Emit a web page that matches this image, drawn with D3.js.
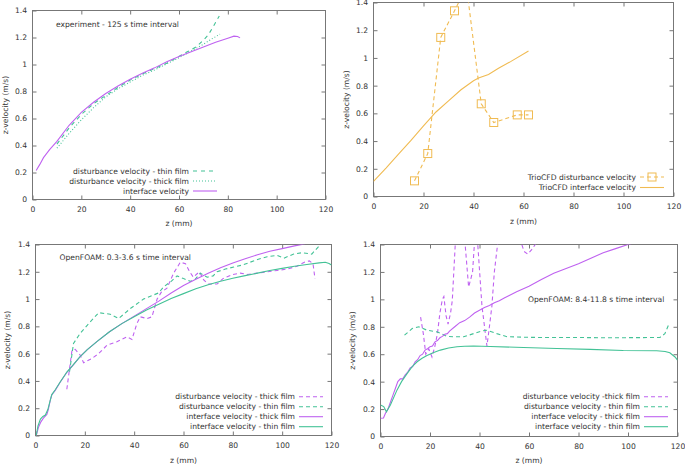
<!DOCTYPE html>
<html><head><meta charset="utf-8">
<script src="https://cdn.jsdelivr.net/npm/d3@7"></script>
<style>
body{margin:0;background:#fff}
svg{display:block}
text{font-family:"DejaVu Sans",sans-serif;font-size:7.6px;fill:#333}
</style></head><body>
<svg id="c" width="685" height="466"></svg>
<script>
// ---------------- DATA ----------------
const xTicks = [0, 20, 40, 60, 80, 100, 120];
const yTicks = [0, 0.2, 0.4, 0.6, 0.8, 1, 1.2, 1.4];
const yTickLabels = ["0", "0.2", "0.4", "0.6", "0.8", "1", "1.2", "1.4"];
const xTickLabels = ["0", "20", "40", "60", "80", "100", "120"];

// Panel 1: experiment
const expThin = [[10,0.41],[15,0.53],[20,0.63],[25,0.71],[30,0.77],[35,0.83],[40,0.885],[45,0.93],[50,0.97],[55,1.01],[58,1.04],[61,1.07],[64,1.1],[67,1.13],[70,1.18],[72,1.22],[74,1.28],[76.5,1.36]];
const expThick = [[10,0.38],[15,0.49],[20,0.59],[25,0.68],[30,0.76],[35,0.82],[40,0.87],[45,0.92],[50,0.96],[55,1.005],[60,1.05],[65,1.1],[70,1.15],[73,1.185],[76.8,1.225]];
const expInterface = [[1.5,0.215],[3,0.26],[4.5,0.31],[7,0.37],[10,0.43],[15,0.55],[20,0.645],[25,0.72],[30,0.785],[35,0.84],[40,0.89],[45,0.935],[50,0.975],[55,1.02],[60,1.06],[65,1.095],[70,1.13],[75,1.165],[80,1.195],[82.5,1.21],[84,1.208],[85,1.197]];

// Panel 2: TrioCFD
const trioDisturbance = [[16.4,0.113],[21.7,0.31],[26.9,1.148],[32.4,1.34],[37.2,1.515],[43.1,0.669],[48.1,0.534],[57.5,0.589],[62,0.589]];
const trioInterface = [[0,0.11],[5,0.205],[10,0.305],[15,0.405],[20,0.51],[25,0.61],[30,0.69],[35,0.77],[40,0.835],[42,0.855],[46,0.88],[50,0.925],[55,0.975],[62,1.05]];

// Panel 3: OpenFOAM 0.3-3.6 s
const of1DistThick = [[12.7,0.339],[14.8,0.626],[16.1,0.631],[18.1,0.59],[19.5,0.533],[22.9,0.565],[25.6,0.6],[29,0.662],[33,0.687],[37.1,0.723],[39.1,0.704],[41.1,0.82],[42.5,0.87],[45.2,0.857],[47.2,0.87],[49.3,1.0],[51,1.05],[53.3,1.08],[56,1.19],[58.7,1.27],[60.8,1.26],[62.5,1.2],[64,1.16],[66.4,1.2],[68.2,1.14],[70,1.11],[73.6,1.11],[76,1.15],[80,1.18],[83,1.19],[86,1.18],[90,1.19],[94,1.2],[98,1.21],[102,1.22],[106,1.24],[109,1.27],[111,1.28],[112.5,1.26],[113.3,1.15]];
const of1DistThin = [[13.8,0.467],[15.4,0.675],[18.1,0.748],[22.2,0.833],[25.6,0.9],[30.3,0.889],[33.7,0.857],[38.4,0.93],[43.8,1.0],[49.9,1.045],[52,1.09],[55,1.13],[57.4,1.17],[60,1.15],[62.8,1.13],[64.5,1.14],[66.8,1.19],[69.6,1.16],[72,1.17],[73.6,1.2],[77,1.22],[80.4,1.235],[84,1.25],[87,1.27],[90,1.29],[93.9,1.31],[98,1.32],[100.7,1.3],[104.7,1.33],[108,1.34],[112,1.33],[113.5,1.36],[115,1.39]];
const of1IfThick = [[0.3,0],[1.2,0.06],[2.2,0.1],[3.2,0.127],[4.6,0.155],[5.2,0.19],[6,0.26],[6.6,0.297],[8,0.33],[10,0.39],[12.7,0.462],[15,0.51],[18,0.577],[21,0.63],[25,0.69],[30,0.76],[35,0.82],[40,0.875],[45,0.93],[50,0.985],[55,1.045],[60,1.1],[65,1.145],[70,1.19],[75,1.23],[80,1.265],[85,1.295],[90,1.325],[95,1.35],[100,1.37],[105,1.39],[108,1.4],[112,1.42]];
const of1IfThin = [[0.3,0],[1,0.07],[2,0.12],[3,0.14],[4,0.15],[5,0.19],[6,0.26],[6.6,0.3],[8,0.335],[10,0.392],[12.7,0.465],[15,0.512],[18,0.577],[21,0.63],[25,0.69],[30,0.76],[35,0.82],[40,0.87],[45,0.92],[50,0.962],[55,1.005],[60,1.04],[65,1.075],[70,1.105],[75,1.13],[80,1.152],[85,1.172],[90,1.19],[95,1.21],[100,1.225],[105,1.24],[110,1.253],[115,1.265],[117.5,1.27],[119,1.26],[120,1.25]];

// Panel 4: OpenFOAM 8.4-11.8 s
const of2DistThick = [[16.2,0.87],[17.3,0.75],[18.3,0.6],[19.5,0.64],[20.8,0.58],[22,0.66],[23,0.75],[24,0.9],[25,1.0],[25.6,1.02],[26.5,0.88],[27.3,0.82],[28.3,0.9],[29,0.99],[30.2,1.4],[31.5,1.65],[33,1.6],[34.2,1.4],[35.6,1.09],[36.5,1.15],[37.2,1.2],[38,1.42],[38.6,1.5],[39.3,1.4],[41,0.95],[43,0.66],[44,0.8],[45,0.95],[46,1.2],[47.3,1.4],[48.5,1.6],[53,1.65],[57.1,1.4],[58,1.35],[59.5,1.33],[61,1.36],[62.5,1.4],[64,1.5]];
const of2DistThin = [[9.7,0.739],[12.8,0.787],[15.5,0.8],[18.8,0.775],[22.8,0.763],[26.9,0.73],[30,0.727],[33.6,0.727],[37.6,0.75],[41,0.77],[43,0.775],[47,0.75],[51.1,0.728],[58,0.724],[64.5,0.722],[78,0.722],[91.4,0.72],[105,0.721],[112.9,0.722],[114.9,0.75],[116.3,0.81]];
const of2IfThick = [[0,0.133],[1.2,0.135],[2,0.17],[3,0.2],[4,0.25],[5,0.3],[6,0.35],[7,0.4],[8,0.42],[9,0.42],[10,0.45],[11,0.47],[12,0.5],[13,0.51],[14,0.545],[15,0.56],[16,0.59],[17,0.6],[18,0.63],[19,0.64],[20,0.655],[21,0.66],[22,0.69],[23,0.7],[24,0.72],[25,0.73],[26,0.745],[27,0.75],[28,0.77],[30,0.8],[32,0.83],[34,0.845],[36,0.87],[38,0.9],[40,0.92],[42,0.94],[44,0.955],[46,0.975],[48,0.99],[50,1.01],[55,1.055],[60,1.095],[65,1.145],[70,1.19],[75,1.225],[80,1.26],[85,1.3],[90,1.34],[95,1.37],[100,1.4],[102,1.41]];
const of2IfThin = [[0,0.23],[1.3,0.218],[2.4,0.18],[4,0.23],[6.7,0.34],[8.5,0.4],[10.8,0.46],[12.8,0.51],[14.8,0.545],[16.8,0.57],[18.8,0.59],[21.5,0.612],[24.2,0.63],[27.5,0.645],[30.9,0.654],[34,0.658],[37.6,0.66],[44.4,0.656],[57.8,0.649],[71.2,0.642],[84.7,0.635],[98.1,0.627],[111.6,0.625],[115,0.62],[116.9,0.61],[119,0.58],[120,0.557]];

// ---------------- STYLE ----------------
const PURPLE = "#bf62f0", GREEN = "#43c296", ORANGE = "#f0bb52";
const svg = d3.select("#c");

function drawPanel(cfg) {
  const x = d3.scaleLinear().domain([0, 120]).range([cfg.l, cfg.r]);
  const y = d3.scaleLinear().domain([0, 1.4]).range([cfg.b, cfg.t]);
  const g = svg.append("g");
  const id = "clip" + cfg.id;
  svg.append("clipPath").attr("id", id).append("rect")
    .attr("x", cfg.l).attr("y", cfg.t).attr("width", cfg.r - cfg.l).attr("height", cfg.b - cfg.t);

  const axStyle = sel => {
    sel.select(".domain").remove();
    sel.selectAll(".tick line").attr("stroke", "#777");
    sel.selectAll(".tick text").attr("fill", "#333").style("font-family", "DejaVu Sans").style("font-size", "7.6px");
  };
  g.append("g").attr("transform", `translate(${cfg.l},0)`)
    .call(d3.axisLeft(y).tickValues(yTicks).tickFormat((d, i) => yTickLabels[i]).tickSize(-4).tickPadding(5.5))
    .call(axStyle);
  g.append("g").attr("transform", `translate(${cfg.r},0)`)
    .call(d3.axisRight(y).tickValues(yTicks.slice(1, -1)).tickFormat("").tickSize(-4))
    .call(axStyle);
  g.append("g").attr("transform", `translate(0,${cfg.b})`)
    .call(d3.axisBottom(x).tickValues(xTicks).tickFormat((d, i) => xTickLabels[i]).tickSize(-4).tickPadding(7.5))
    .call(axStyle);
  g.append("g").attr("transform", `translate(0,${cfg.t})`)
    .call(d3.axisTop(x).tickValues(xTicks.slice(1, -1)).tickFormat("").tickSize(-4))
    .call(axStyle);
  g.append("rect").attr("x", cfg.l).attr("y", cfg.t).attr("width", cfg.r - cfg.l).attr("height", cfg.b - cfg.t)
    .attr("fill", "none").attr("stroke", "#777").attr("stroke-width", 1);

  const line = d3.line().x(d => x(d[0])).y(d => y(d[1]));
  const plot = g.append("g").attr("clip-path", `url(#${id})`);
  cfg.series.forEach(s => {
    plot.append("path").datum(s.data).attr("d", line).attr("fill", "none")
      .attr("stroke", s.color).attr("stroke-width", 1.1)
      .attr("stroke-dasharray", s.dash || null);
    if (s.marker) {
      plot.selectAll(null).data(s.data).enter().append("rect")
        .attr("x", d => x(d[0]) - 4).attr("y", d => y(d[1]) - 4)
        .attr("width", 8).attr("height", 8).attr("fill", "none")
        .attr("stroke", s.color).attr("stroke-width", 1);
    }
  });

  // labels
  g.append("text").attr("x", (cfg.l + cfg.r) / 2).attr("y", cfg.xlabY).attr("text-anchor", "middle").text("z (mm)");
  g.append("text").attr("transform", `translate(${cfg.ylabX},${(cfg.t + cfg.b) / 2}) rotate(-90)`)
    .attr("text-anchor", "middle").attr("dominant-baseline", "central").text("z-velocity (m/s)");
  if (cfg.note) g.append("text").attr("x", cfg.note.x).attr("y", cfg.note.y).attr("dominant-baseline", "central").text(cfg.note.text);

  // legend
  cfg.series.forEach((s, i) => {
    const yy = cfg.leg.y + i * cfg.leg.dy;
    g.append("text").attr("x", cfg.leg.x).attr("y", yy).attr("text-anchor", "end")
      .attr("dominant-baseline", "central").text(s.label);
    g.append("line").attr("x1", cfg.leg.x + 4).attr("x2", cfg.leg.x + 28).attr("y1", yy).attr("y2", yy)
      .attr("stroke", s.color).attr("stroke-width", 1.1).attr("stroke-dasharray", s.dash || null);
    if (s.marker) g.append("rect").attr("x", cfg.leg.x + 16 - 4).attr("y", yy - 4).attr("width", 8).attr("height", 8)
      .attr("fill", "none").attr("stroke", s.color);
  });
}

drawPanel({
  id: 1, l: 32.5, r: 325.5, t: 10.5, b: 199.5, xlabY: 226, ylabX: 5,
  note: {x: 56, y: 24, text: "experiment - 125 s time interval"},
  leg: {x: 189, y: 171, dy: 10},
  series: [
    {label: "disturbance velocity - thin film", data: expThin, color: GREEN, dash: "4,4"},
    {label: "disturbance velocity - thick film", data: expThick, color: GREEN, dash: "1,2"},
    {label: "interface velocity", data: expInterface, color: PURPLE}
  ]
});
drawPanel({
  id: 2, l: 373.5, r: 673.5, t: 2.5, b: 196.5, xlabY: 224, ylabX: 346,
  leg: {x: 636, y: 177, dy: 10.5},
  series: [
    {label: "TrioCFD disturbance velocity", data: trioDisturbance, color: ORANGE, dash: "4,3", marker: true},
    {label: "TrioCFD interface velocity", data: trioInterface, color: ORANGE}
  ]
});
drawPanel({
  id: 3, l: 35.5, r: 331.5, t: 244.5, b: 435.5, xlabY: 463, ylabX: 7,
  note: {x: 59.5, y: 257.5, text: "OpenFOAM: 0.3-3.6 s time interval"},
  leg: {x: 295, y: 396.7, dy: 10},
  series: [
    {label: "disturbance velocity - thick film", data: of1DistThick, color: PURPLE, dash: "4,3"},
    {label: "disturbance velocity - thin film", data: of1DistThin, color: GREEN, dash: "4,3"},
    {label: "interface velocity - thick film", data: of1IfThick, color: PURPLE},
    {label: "interface velocity - thin film", data: of1IfThin, color: GREEN}
  ]
});
drawPanel({
  id: 4, l: 380.5, r: 677.5, t: 244.5, b: 436.5, xlabY: 463, ylabX: 352,
  note: {x: 528, y: 299.5, text: "OpenFOAM: 8.4-11.8 s time interval"},
  leg: {x: 640, y: 396.7, dy: 10},
  series: [
    {label: "disturbance velocity -thick film", data: of2DistThick, color: PURPLE, dash: "4,3"},
    {label: "disturbance velocity - thin film", data: of2DistThin, color: GREEN, dash: "4,3"},
    {label: "interface velocity - thick film", data: of2IfThick, color: PURPLE},
    {label: "interface velocity - thin film", data: of2IfThin, color: GREEN}
  ]
});
</script></body></html>
